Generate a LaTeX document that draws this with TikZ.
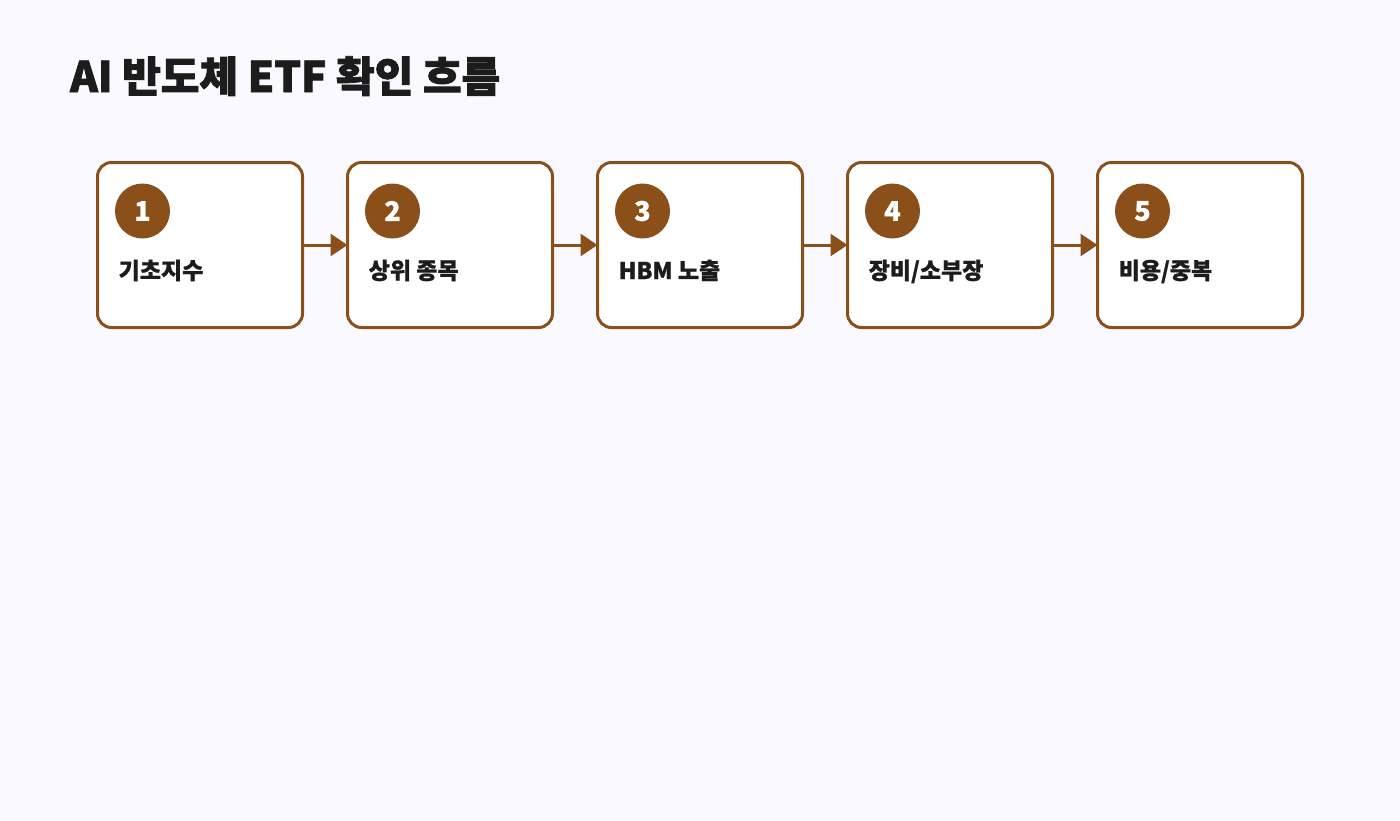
\documentclass[tikz,border=0pt]{standalone}
\usepackage{fontspec}
\setmainfont{Noto Sans CJK KR}
\usetikzlibrary{arrows.meta}
\definecolor{bgc}{RGB}{250,249,255}
\definecolor{brn}{RGB}{139,79,26}
\definecolor{ink}{RGB}{28,28,28}
\tikzset{
  stepbox/.style={draw=brn, line width=3pt, fill=white, rounded corners=14pt, minimum width=205pt, minimum height=165pt, inner sep=0pt},
  numdot/.style={circle, fill=brn, minimum size=55pt, inner sep=0pt, text=white, font=\fontsize{27}{27}\selectfont\bfseries\addfontfeature{FakeBold=1}},
  steplabel/.style={anchor=base west, inner sep=0pt, text=ink, font=\fontsize{23}{23}\selectfont\bfseries\addfontfeature{FakeBold=0.8}},
  flow/.style={draw=brn, line width=3pt, -{Triangle[length=17pt,width=22pt]}, shorten >=-1.5pt, shorten <=-1.5pt}
}
\begin{document}
\begin{tikzpicture}[x=1pt,y=-1pt]
\useasboundingbox (0,0) rectangle (1400,820);
\fill[bgc] (0,0) rectangle (1400,820);
\node[anchor=base west, inner sep=0pt, text=ink, font=\fontsize{42}{42}\selectfont\bfseries\addfontfeature{FakeBold=2}] (title) at (70,92) {AI 반도체 ETF 확인 흐름};
\foreach \i/\lab in {1/{기초지수},2/{상위 종목},3/{HBM 노출},4/{장비/소부장},5/{비용/중복}}{
  \pgfmathsetmacro{\bx}{96+(\i-1)*250}
  \node[stepbox, anchor=north west] (b\i) at (\bx,161) {};
  \node[numdot] (n\i) at (\bx+46.5,211) {\i};
  \node[steplabel] (l\i) at (\bx+22.5,279) {\lab};
}
\foreach \a/\b in {1/2,2/3,3/4,4/5}{
  \draw[flow] (b\a.east) -- (b\b.west);
}
\end{tikzpicture}
\end{document}
